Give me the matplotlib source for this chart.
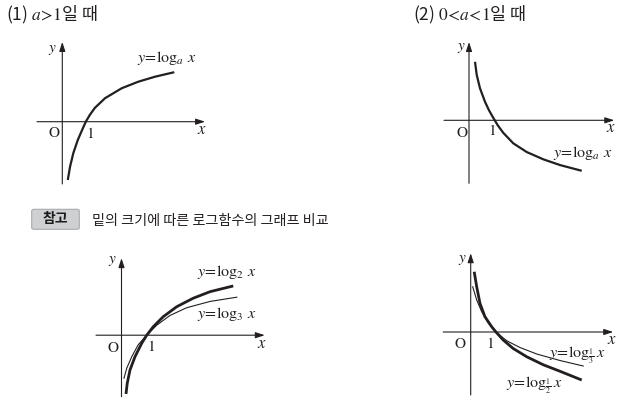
import matplotlib
matplotlib.use("Agg")
import matplotlib.pyplot as plt
from matplotlib.patches import FancyBboxPatch

plt.rcParams['font.family'] = ['Noto Sans CJK KR', 'DejaVu Sans']
plt.rcParams['mathtext.fontset'] = 'stix'

# ---------------- data (in axis units) ----------------
p1_x = [0.22, 0.31, 0.44, 0.62, 0.78, 0.94, 1.10, 1.30, 1.71, 2.38, 3.04, 3.71, 4.48]
p1_y = [-2.33, -1.80, -1.26, -0.73, -0.36, 0.0, 0.27, 0.55, 0.94, 1.34, 1.60, 1.80, 1.98]

p2_x = [0.24, 0.31, 0.44, 0.64, 0.80, 0.97, 1.15, 1.37, 1.77, 2.31, 2.97, 3.64, 4.51]
p2_y = [2.34, 1.81, 1.28, 0.74, 0.40, 0.10, -0.20, -0.50, -0.92, -1.27, -1.56, -1.79, -2.02]

log2_x = [0.18, 0.23, 0.34, 0.54, 0.81, 1.01, 1.27, 1.67, 2.21, 2.87, 3.54, 4.47]
log2_y = [-2.35, -1.92, -1.39, -0.86, -0.32, 0.0, 0.34, 0.74, 1.14, 1.48, 1.74, 1.97]
log3_x = [0.10, 0.21, 0.41, 0.67, 1.01, 1.41, 1.94, 2.61, 3.54, 4.61]
log3_y = [-1.72, -1.32, -0.86, -0.38, 0.0, 0.40, 0.79, 1.10, 1.35, 1.52]

logh_x = [0.14, 0.24, 0.37, 0.57, 0.84, 1.01, 1.30, 1.70, 2.24, 2.90, 3.57, 4.44]
logh_y = [2.41, 1.81, 1.15, 0.61, 0.21, 0.0, -0.32, -0.66, -0.99, -1.31, -1.57, -1.92]
logt_x = [0.08, 0.24, 0.44, 0.70, 1.01, 1.44, 1.97, 2.64, 3.57, 4.50]
logt_y = [1.81, 1.28, 0.81, 0.36, 0.0, -0.35, -0.62, -0.88, -1.14, -1.36]

title1 = "(1) $a\\!>\\!1$일 때"
title2 = "(2) $0\\!<\\!a\\!<\\!1$일 때"
note_tag = "참고"
note_text = "밑의 크기에 따른 로그함수의 그래프 비교"
lbl_a = r"$y\!=\!\log_{a}\,x$"
lbl_2 = r"$y\!=\!\log_{2}\,x$"
lbl_3 = r"$y\!=\!\log_{3}\,x$"
lbl_h = r"$y\!=\!\log_{\frac{1}{2}}x$"
lbl_t = r"$y\!=\!\log_{\frac{1}{3}}x$"

# ---------------- layout ----------------
W, H = 638, 407
UNIT = 25.0
INK = "#231f20"

fig = plt.figure(figsize=(W / 100, H / 100), dpi=100)
fig.patch.set_facecolor("white")


def panel(ox, oy, xr, yr):
    ax = fig.add_axes([0, 0, 1, 1])
    ax.set_xlim(-ox / UNIT, (W - ox) / UNIT)
    ax.set_ylim(-(H - oy) / UNIT, oy / UNIT)
    ax.axis("off")
    ax.patch.set_alpha(0)
    ax.annotate("", xy=(xr[1], 0), xytext=(xr[0], 0),
                arrowprops=dict(arrowstyle="-|>,head_length=0.55,head_width=0.18",
                                lw=0.8, color=INK, shrinkA=0, shrinkB=0))
    ax.annotate("", xy=(0, yr[1]), xytext=(0, yr[0]),
                arrowprops=dict(arrowstyle="-|>,head_length=0.55,head_width=0.18",
                                lw=0.8, color=INK, shrinkA=0, shrinkB=0))
    return ax


def axis_labels(ax, ypos, opos, onepos, xpos):
    ax.text(*ypos, "$y$", fontsize=11, ha="center", va="center", color=INK)
    ax.text(*opos, r"$\mathrm{O}$", fontsize=11, ha="center", va="center", color=INK)
    ax.text(*onepos, "$1$", fontsize=11, ha="center", va="center", color=INK)
    ax.text(*xpos, "$x$", fontsize=12, ha="center", va="center", color=INK)


# panel 1
ax1 = panel(62.3, 121.7, (-1.01, 5.71), (-2.49, 3.19))
ax1.plot(p1_x, p1_y, color=INK, lw=1.6, solid_capstyle="butt", solid_joinstyle="round")
axis_labels(ax1, (-0.38, 2.94), (-0.33, -0.42), (1.10, -0.46), (5.58, -0.30))
ax1.text(4.18, 2.54, lbl_a, fontsize=11.5, ha="center", va="center", color=INK)

# panel 2
ax2 = panel(469.0, 120.3, (-1.0, 5.81), (-2.52, 3.13))
ax2.plot(p2_x, p2_y, color=INK, lw=1.6, solid_capstyle="butt", solid_joinstyle="round")
axis_labels(ax2, (-0.29, 2.94), (-0.29, -0.48), (0.91, -0.42), (5.68, -0.30))
ax2.text(4.53, -1.32, lbl_a, fontsize=11.5, ha="center", va="center", color=INK)

# panel 3
ax3 = panel(121.5, 335.2, (-1.02, 5.73), (-2.46, 3.08))
ax3.plot(log3_x, log3_y, color=INK, lw=0.8, solid_joinstyle="round")
ax3.plot(log2_x, log2_y, color=INK, lw=2.0, solid_capstyle="butt", solid_joinstyle="round")
axis_labels(ax3, (-0.35, 3.01), (-0.33, -0.48), (1.17, -0.46), (5.61, -0.35))
ax3.text(4.19, 2.52, lbl_2, fontsize=11.5, ha="center", va="center", color=INK)
ax3.text(4.19, 0.85, lbl_3, fontsize=11.5, ha="center", va="center", color=INK)

# panel 4
ax4 = panel(470.7, 332.0, (-1.10, 5.70), (-2.52, 3.15))
ax4.plot(logt_x, logt_y, color=INK, lw=0.8, solid_joinstyle="round")
ax4.plot(logh_x, logh_y, color=INK, lw=2.0, solid_capstyle="butt", solid_joinstyle="round")
axis_labels(ax4, (-0.34, 2.95), (-0.43, -0.45), (0.77, -0.45), (5.64, -0.32))
ax4.text(4.27, -0.92, lbl_t, fontsize=11.5, ha="center", va="center", color=INK)
ax4.text(2.54, -2.12, lbl_h, fontsize=11.5, ha="center", va="center", color=INK)

# titles / note (figure pixel placement)
def px(x, y):
    return x / W, 1 - y / H

fig.text(*px(6, 15), title1, fontsize=12.5, ha="left", va="center", color=INK)
fig.text(*px(412.7, 15), title2, fontsize=12.5, ha="left", va="center", color=INK)

bx0, by0, bx1, by1 = 31.7, 209.3, 79.3, 229.3
box = FancyBboxPatch(px(bx0, by1), (bx1 - bx0) / W, (by1 - by0) / H,
                     boxstyle="round,pad=0,rounding_size=0.004",
                     transform=fig.transFigure, facecolor="#cfd0d2",
                     edgecolor="#a9aaac", lw=0.8)
fig.add_artist(box)
fig.text(*px((bx0 + bx1) / 2, (by0 + by1) / 2), note_tag, fontsize=10,
         fontweight="bold", ha="center", va="center", color="#1a1a1a")
fig.text(*px(91.7, 221), note_text, fontsize=10.2, ha="left", va="center", color=INK)

fig.savefig("out.png", dpi=100, facecolor="white")
